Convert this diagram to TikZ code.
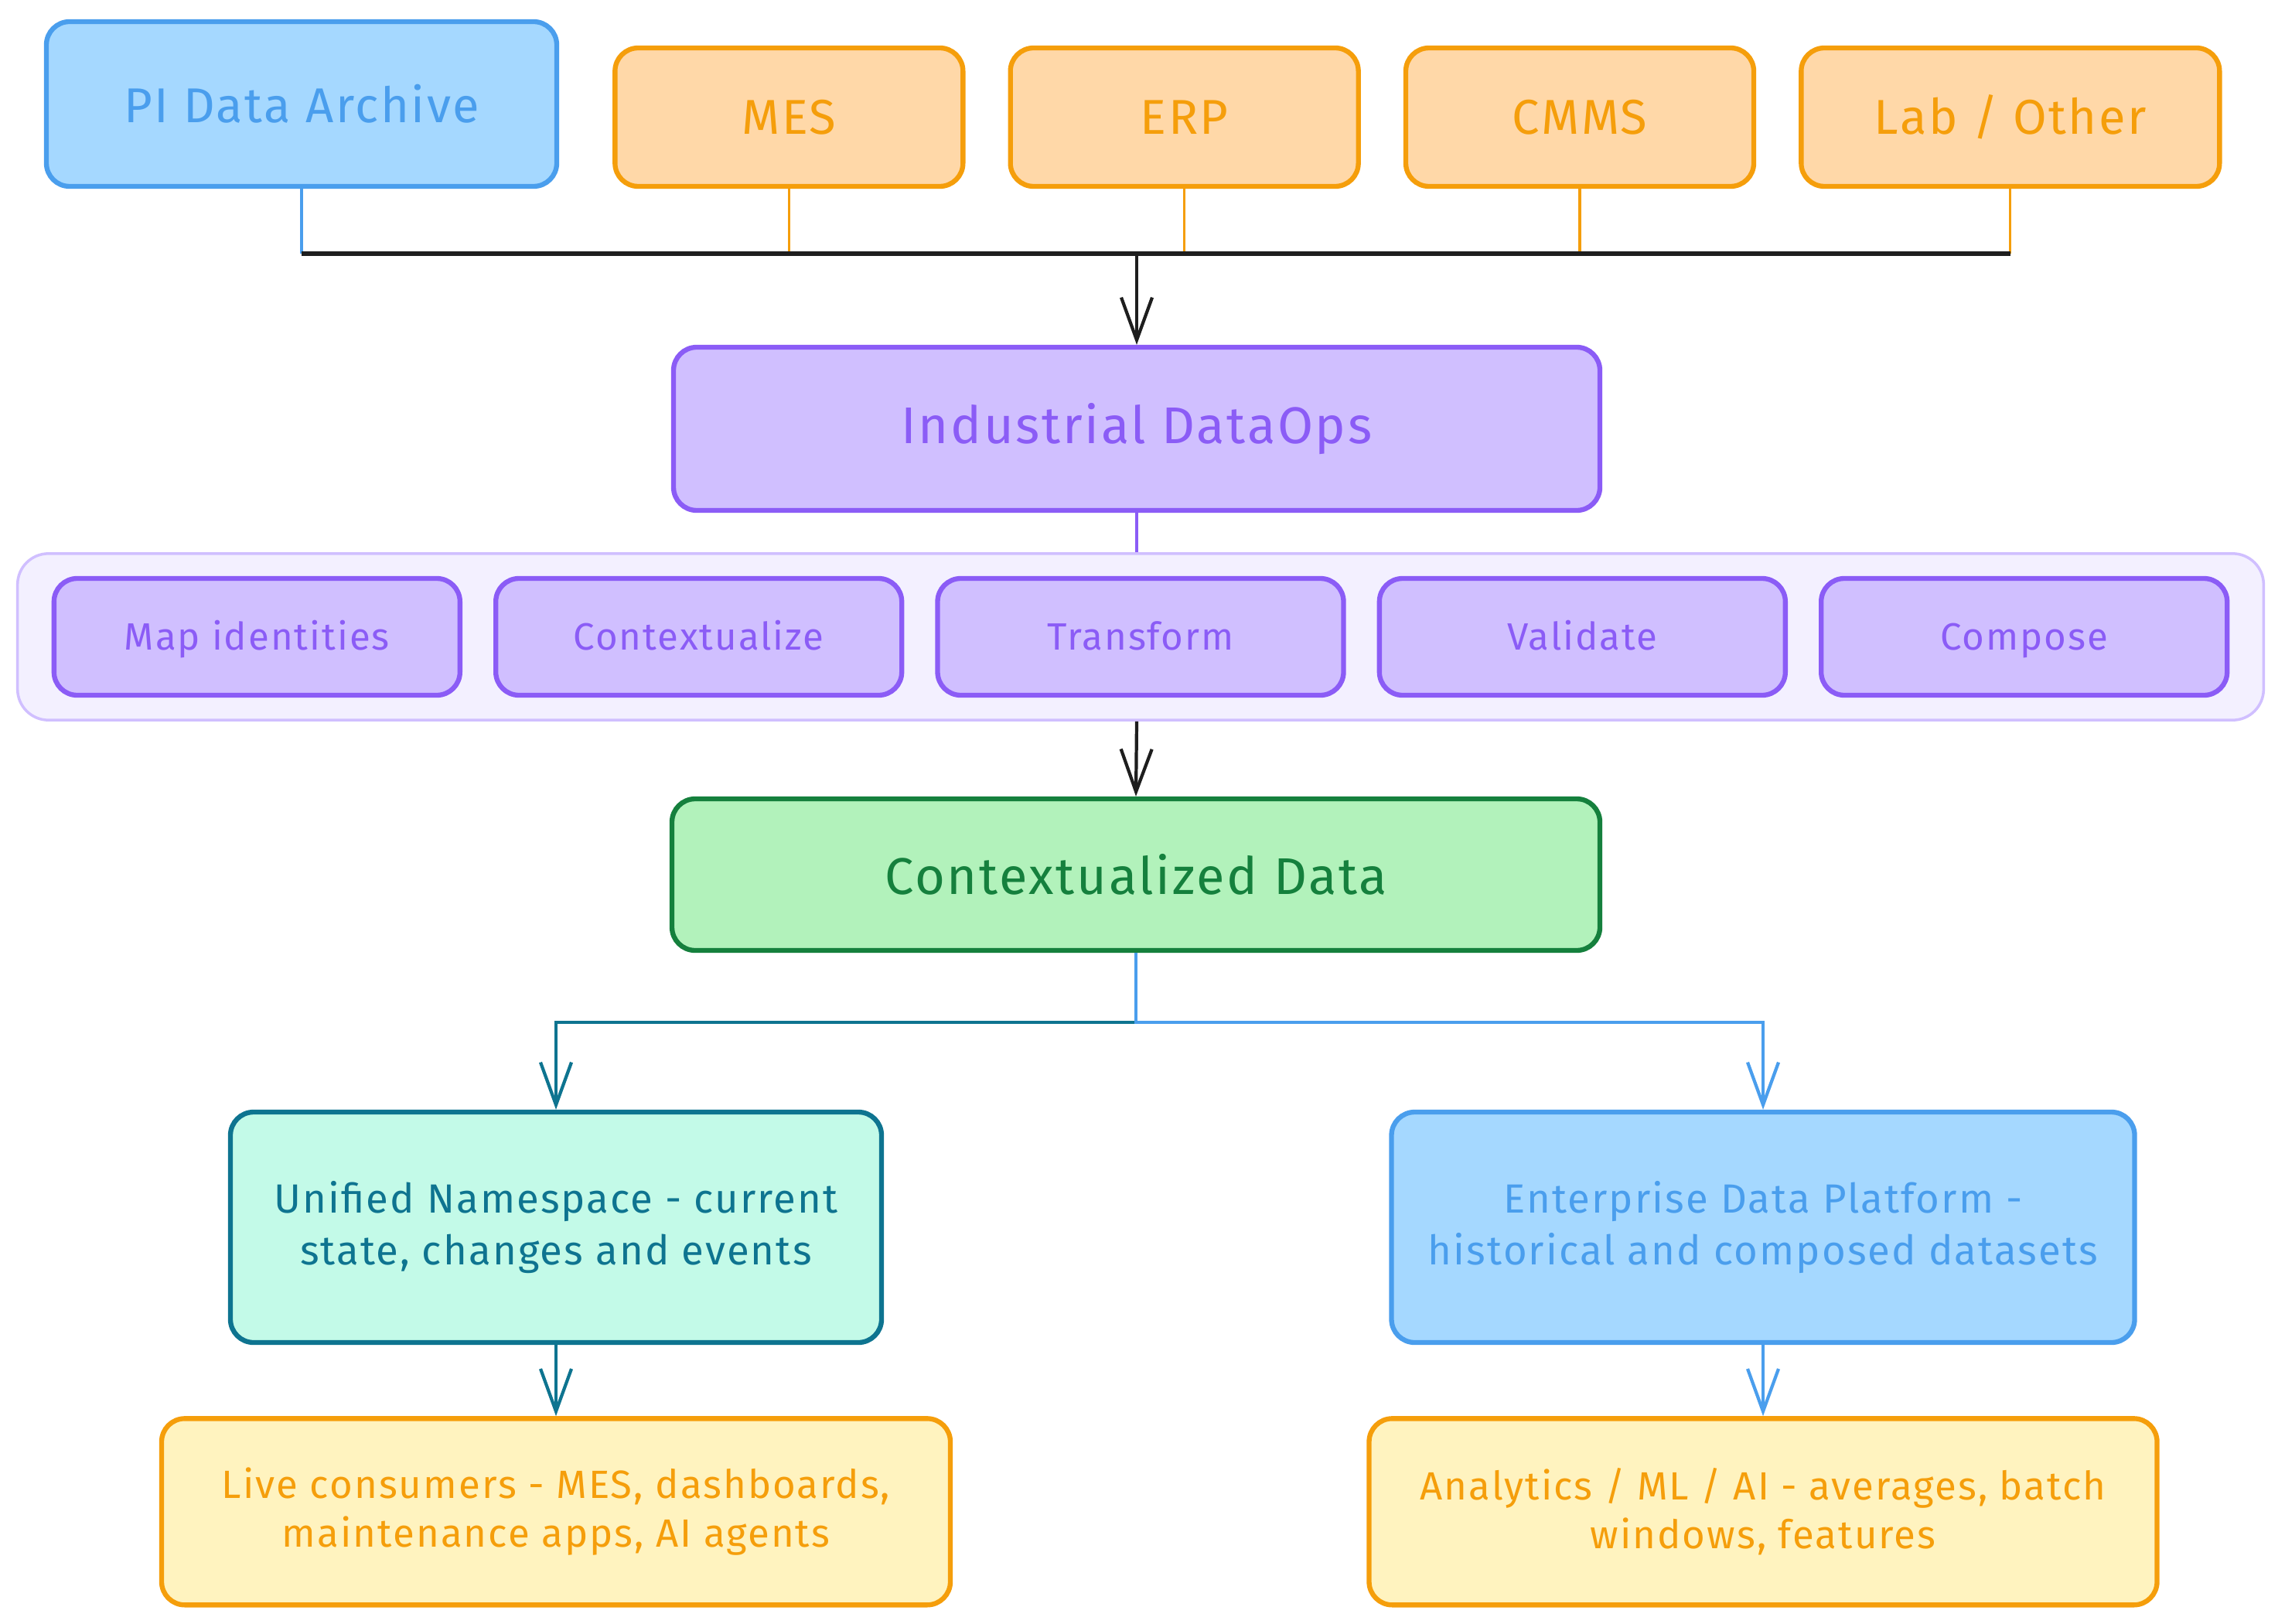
\documentclass[tikz,border=0pt]{standalone}
\usepackage{fontspec}
\setmainfont[LetterSpace=4]{Fira Sans}
\usetikzlibrary{positioning,arrows.meta,fit,backgrounds,calc}
\definecolor{piline}{HTML}{4A9EED}
\definecolor{pifill}{HTML}{A5D8FF}
\definecolor{srcline}{HTML}{F59E0B}
\definecolor{srcfill}{HTML}{FFD8A8}
\definecolor{opsline}{HTML}{8B5CF6}
\definecolor{opsfill}{HTML}{D0BFFF}
\definecolor{panelfill}{HTML}{F3F0FF}
\definecolor{ctxline}{HTML}{15803D}
\definecolor{ctxfill}{HTML}{B2F2BB}
\definecolor{unsline}{HTML}{0E7490}
\definecolor{unsfill}{HTML}{C3FAE8}
\definecolor{usefill}{HTML}{FFF3BF}
\definecolor{ink}{HTML}{1E1E1E}

\begin{document}
\begin{tikzpicture}[
  x=1mm, y=1mm,
  font=\fontsize{18}{21}\selectfont,
  node distance=5.5mm and 5.5mm,
  box/.style={draw, line width=1.8pt, rounded corners=3mm, align=center, inner sep=2pt},
  pibox/.style={box, draw=piline, fill=pifill, text=piline},
  src/.style={box, draw=srcline, fill=srcfill, text=srcline, minimum width=45mm, minimum height=17.9mm},
  opsbox/.style={box, draw=opsline, fill=opsfill, text=opsline},
  stepbox/.style={opsbox, minimum width=52.5mm, minimum height=15.1mm, text height=2ex, text depth=0.2ex, font=\fontsize{14}{17}\selectfont},
  ctxbox/.style={box, draw=ctxline, fill=ctxfill, text=ctxline, font=\fontsize{19}{22}\selectfont},
  unsbox/.style={box, draw=unsline, fill=unsfill, text=unsline, font=\fontsize{15}{19}\selectfont},
  usebox/.style={box, draw=srcline, fill=usefill, text=srcline, font=\fontsize{14.5}{18}\selectfont},
  panel/.style={draw=opsfill, fill=panelfill, line width=1pt, rounded corners=4mm, inner xsep=4.4mm, inner ysep=2.9mm},
  arr/.style={-{Straight Barb[length=5.5mm, width=4mm]}, line width=1.2pt},
  feed/.style={line width=0.9pt},
]
\begin{scope}[on background layer]
  \fill[white] (0,0) rectangle (295.5,-210);
\end{scope}
% Sources.
\node[pibox, minimum width=66mm, minimum height=21.3mm] (PI) at (39,-13.45) {PI Data Archive};
\node[src, right=6.9mm of PI.south east, anchor=south west] (MES) {MES};
\node[src, right=of MES] (ERP) {ERP};
\node[src, right=of ERP] (CMMS) {CMMS};
\node[src, minimum width=54.1mm, right=of CMMS] (Lab) {Lab / Other};
\coordinate (bus) at (147,-32.8);
\draw[feed, draw=piline] (PI.south) -- (PI.south |- bus);
\foreach \s in {MES,ERP,CMMS,Lab}
  \draw[feed, draw=srcline] (\s.south) -- (\s.south |- bus);
\draw[ink, line width=1.8pt] (PI.south |- bus) -- (Lab.south |- bus);
% DataOps and its steps.
\node[opsbox, minimum width=119.8mm, minimum height=21.1mm, font=\fontsize{19}{22}\selectfont] (Ops) at (147,-55.45) {Industrial DataOps};
\draw[arr, ink] (bus) -- (Ops.north);
\node[stepbox] (S3) at (147.5,-82.35) {Transform};
\node[stepbox, left=4mm of S3] (S2) {Contextualize};
\node[stepbox, left=4mm of S2] (S1) {Map identities};
\node[stepbox, right=4mm of S3] (S4) {Validate};
\node[stepbox, right=4mm of S4] (S5) {Compose};
\begin{scope}[on background layer]
  \node[panel, fit=(S1)(S5)] (Steps) {};
\end{scope}
\draw[feed, draw=opsline] (Ops.south) -- (Ops.south |- Steps.north);
% Contextualized data and consumers.
\node[ctxbox, minimum width=120mm, minimum height=19.6mm] (Ctx) at (146.9,-113.1) {Contextualized Data};
\draw[arr, ink] (Ops.south |- Steps.south) -- (Ctx.north);
\node[unsbox, minimum width=84.2mm, minimum height=29.8mm] (UNS) at (71.9,-158.7) {Unified Namespace - current\\state, changes and events};
\node[pibox, font=\fontsize{15}{19}\selectfont, minimum width=96.1mm, minimum height=29.8mm] (EDP) at (228,-158.7) {Enterprise Data Platform -\\historical and composed datasets};
\draw[arr, unsline] (Ctx.south) -- ++(0,-9) -| (UNS.north);
\draw[arr, piline] (Ctx.south) -- ++(0,-9) -| (EDP.north);
\node[usebox, minimum width=102mm, minimum height=24.1mm, below=9.2mm of UNS] (Live) {Live consumers - MES, dashboards,\\maintenance apps, AI agents};
\node[usebox, minimum width=101.9mm, minimum height=24.1mm, below=9.2mm of EDP] (Ana) {Analytics / ML / AI - averages, batch\\windows, features};
\draw[arr, unsline] (UNS) -- (Live);
\draw[arr, piline] (EDP) -- (Ana);
\end{tikzpicture}
\end{document}
